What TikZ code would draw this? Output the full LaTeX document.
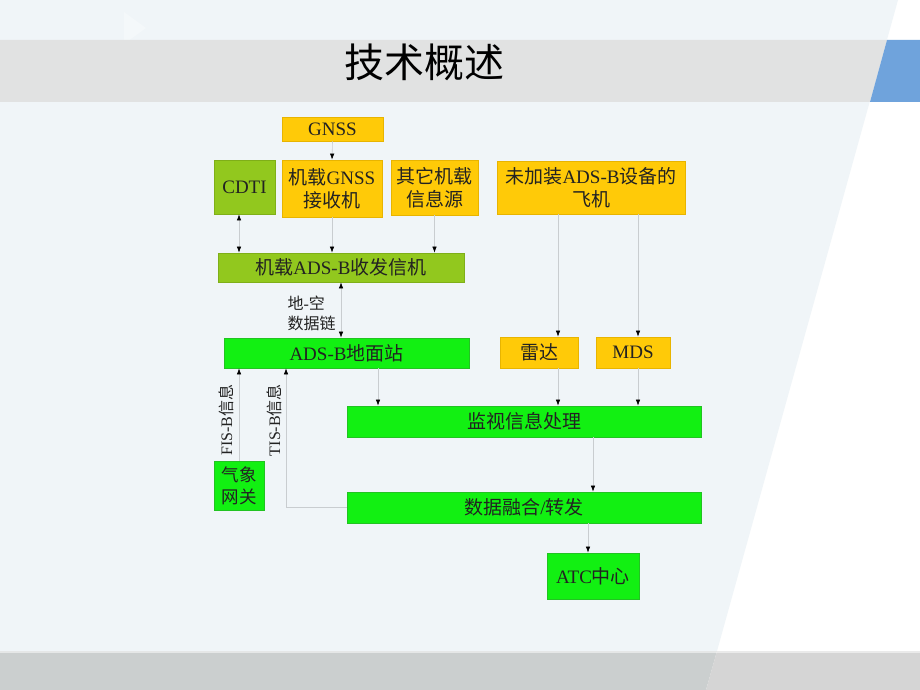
\documentclass[tikz,border=0pt]{standalone}
\usepackage{fontspec}
\setmainfont{Liberation Serif}
\newfontfamily\cjk{Noto Sans CJK SC}
\usetikzlibrary{arrows.meta}
\definecolor{bgpane}{HTML}{F0F5F8}
\definecolor{band}{HTML}{E1E2E2}
\definecolor{bandblue}{HTML}{6FA3DC}
\definecolor{foot}{HTML}{CBCFCF}
\definecolor{footr}{HTML}{D5D5D5}
\definecolor{yfill}{HTML}{FFCA08}
\definecolor{yedge}{HTML}{E8B400}
\definecolor{gfill}{HTML}{12F012}
\definecolor{gedge}{HTML}{22C322}
\definecolor{ofill}{HTML}{92C81E}
\definecolor{oedge}{HTML}{7FAF18}
\definecolor{wire}{HTML}{C9CDD0}
\definecolor{ink}{HTML}{222222}
\tikzset{
  box/.style={inner sep=0pt,line width=0.8pt,text=ink,align=center,font=\fontsize{19}{23}\selectfont},
  ybox/.style={box,draw=yedge,fill=yfill},
  gbox/.style={box,draw=gedge,fill=gfill},
  obox/.style={box,draw=oedge,fill=ofill},
  wirearr/.style={draw=wire,line width=0.6pt,-{Latex[length=6pt,width=4.5pt,black]}},
  wirebi/.style={draw=wire,line width=0.6pt,{Latex[length=6pt,width=4.5pt,black]}-{Latex[length=6pt,width=4.5pt,black]}},
  lbl/.style={text=ink,font=\fontsize{16}{20}\selectfont}
}

\begin{document}
\begin{tikzpicture}[x=1pt,y=-1pt]
\useasboundingbox (0,0) rectangle (920,690);
% slide background
\fill[white] (0,0) rectangle (920,690);
\fill[bgpane] (0,0) -- (898,0) -- (717,651) -- (0,651) -- cycle;
\fill[white,opacity=.3] (124,12) -- (146,28) -- (124,44) -- cycle;
\fill[band] (0,40) -- (887,40) -- (870,102) -- (0,102) -- cycle;
\fill[bandblue] (887,40) -- (920,40) -- (920,102) -- (870,102) -- cycle;
\fill[foot] (0,651) -- (717,651) -- (706,690) -- (0,690) -- cycle;
\fill[footr] (717,651) -- (920,651) -- (920,690) -- (706,690) -- cycle;
\draw[white,opacity=.5,line width=1.5pt] (0,652) -- (920,652);
\node[font=\cjk\fontsize{40}{44}\selectfont] (title) at (424,62) {技术概述};

% onboard part
\node[ybox,minimum width=101pt,minimum height=24pt] (gnss) at (332.5,129) {GNSS};
\node[obox,minimum width=61pt,minimum height=54pt] (cdti) at (244.5,187) {CDTI};
\node[ybox,minimum width=100pt,minimum height=57pt] (rcv) at (332,188.5) {{\cjk 机载}GNSS\\{\cjk 接收机}};
\node[ybox,minimum width=87pt,minimum height=55pt] (other) at (434.5,187.5) {{\cjk 其它机载}\\{\cjk 信息源}};
\node[ybox,minimum width=188pt,minimum height=53pt] (plane) at (591,187.5) {{\cjk 未加装}ADS-B{\cjk 设备的}\\{\cjk 飞机}};
\node[obox,minimum width=246pt,minimum height=29pt] (xcvr) at (341,267.5) {{\cjk 机载}ADS-B{\cjk 收发信机}};

% ground part
\node[gbox,minimum width=245pt,minimum height=30pt] (gs) at (346.5,353) {ADS-B{\cjk 地面站}};
\node[ybox,minimum width=78pt,minimum height=31pt] (radar) at (539,352.5) {\cjk 雷达};
\node[ybox,minimum width=74pt,minimum height=31pt] (mds) at (633,352.5) {MDS};
\node[gbox,minimum width=354pt,minimum height=31pt] (proc) at (524,421.5) {\cjk 监视信息处理};
\node[gbox,minimum width=354pt,minimum height=31pt] (fuse) at (524,507.5) {{\cjk 数据融合}/{\cjk 转发}};
\node[gbox,minimum width=92pt,minimum height=46pt] (atc) at (593,576) {ATC{\cjk 中心}};
\node[gbox,minimum width=50pt,minimum height=49pt,font=\cjk\fontsize{17.5}{22}\selectfont] (wx) at (239,485.5) {气象\\网关};

% labels
\node[lbl,align=left,anchor=west] (lnk) at (284,313) {{\cjk 地}-{\cjk 空}\\{\cjk 数据链}};
\node[lbl,rotate=90] (fis) at (226,420) {FIS-B{\cjk 信息}};
\node[lbl,rotate=90] (tis) at (274,420) {TIS-B{\cjk 信息}};

% connectors
\draw[wirearr] (gnss.south) -- (rcv.north);
\draw[wirearr] (rcv.south) -- (rcv.south |- xcvr.north);
\draw[wirearr] (other.south) -- (other.south |- xcvr.north);
\draw[wirebi] ([xshift=-5.5]cdti.south) -- ([xshift=-102]xcvr.north);
\draw[wirebi] (xcvr.south) -- ([xshift=-5.5]gs.north);
\draw[wirearr] ([xshift=-33]plane.south) -- ([xshift=19]radar.north);
\draw[wirearr] ([xshift=47]plane.south) -- ([xshift=5]mds.north);
\draw[wirearr] ([xshift=31.5]gs.south) -- ([xshift=-146]proc.north);
\draw[wirearr] ([xshift=19]radar.south) -- ([xshift=34]proc.north);
\draw[wirearr] ([xshift=5]mds.south) -- ([xshift=114]proc.north);
\draw[wirearr] ([xshift=69]proc.south) -- ([xshift=69]fuse.north);
\draw[wirearr] ([xshift=64]fuse.south) -- ([xshift=-5]atc.north);
\draw[wirearr] (wx.north) -- ([xshift=-107.5]gs.south);
\draw[wirearr] (fuse.west) -| ([xshift=-60.5]gs.south);
\end{tikzpicture}
\end{document}
